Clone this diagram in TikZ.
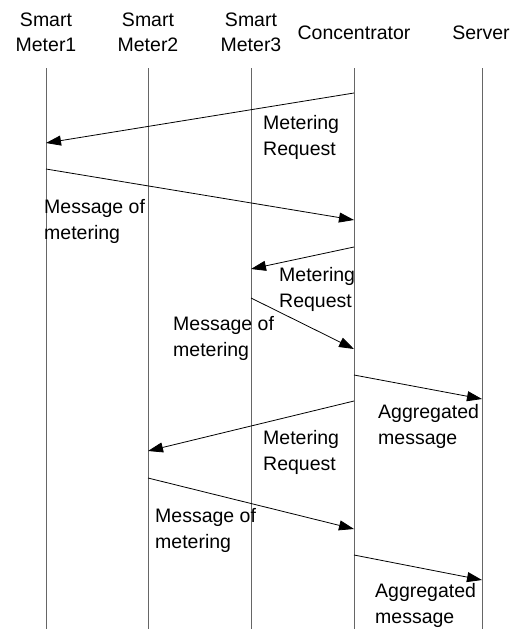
\documentclass[tikz,border=0pt]{standalone}
\usepackage{fontspec}
\setmainfont{Liberation Sans}
\usetikzlibrary{arrows.meta}
\begin{document}
\begin{tikzpicture}[x=1pt,y=-1pt,
  life/.style={draw=black!60, line width=0.9pt},
  msg/.style={draw=black, line width=0.8pt, -{Triangle[length=15pt,width=10pt]}},
  hdr/.style={font=\fontsize{19.5}{25}\selectfont, align=center, inner sep=0},
  lbl/.style={font=\fontsize{19.5}{26}\selectfont, align=left, inner sep=0, anchor=west}]
\useasboundingbox[fill=white] (0,0) rectangle (520,629);
% headers
\node[hdr] (h1) at (46,32.5) {Smart\\Meter1};
\node[hdr] (h2) at (148,32.5) {Smart\\Meter2};
\node[hdr] (h3) at (251,32.5) {Smart\\Meter3};
\node[hdr] (h4) at (354,33) {Concentrator};
\node[hdr] (h5) at (481,33) {Server};
% lifelines
\foreach \n/\x in {1/46,2/148,3/251,4/354,5/482}{
  \coordinate (t\n) at (\x,68);
  \coordinate (b\n) at (\x,629);
  \draw[life] (t\n) -- (b\n);
}
% message endpoints
\coordinate (s1) at (354,93);  \coordinate (e1) at (46,143);
\coordinate (s2) at (46,169);  \coordinate (e2) at (354,220);
\coordinate (s3) at (354,247); \coordinate (e3) at (251,269);
\coordinate (s4) at (251,298); \coordinate (e4) at (354,349);
\coordinate (s5) at (354,375); \coordinate (e5) at (482,399);
\coordinate (s6) at (354,401); \coordinate (e6) at (148,451);
\coordinate (s7) at (148,478); \coordinate (e7) at (354,529);
\coordinate (s8) at (354,555); \coordinate (e8) at (482,580);
\foreach \i in {1,...,8}{ \draw[msg] (s\i) -- (e\i); }
% labels
\node[lbl] (l1) at (263,137) {Metering\\Request};
\node[lbl] (l2) at (44,221) {Message of\\metering};
\node[lbl] (l3) at (279,289.5) {Metering\\Request};
\node[lbl] (l4) at (173,338.5) {Message of\\metering};
\node[lbl] (l5) at (378,426) {Aggregated\\message};
\node[lbl] (l6) at (263,452.5) {Metering\\Request};
\node[lbl] (l7) at (155,530) {Message of\\metering};
\node[lbl] (l8) at (375,605) {Aggregated\\message};
\end{tikzpicture}
\end{document}
